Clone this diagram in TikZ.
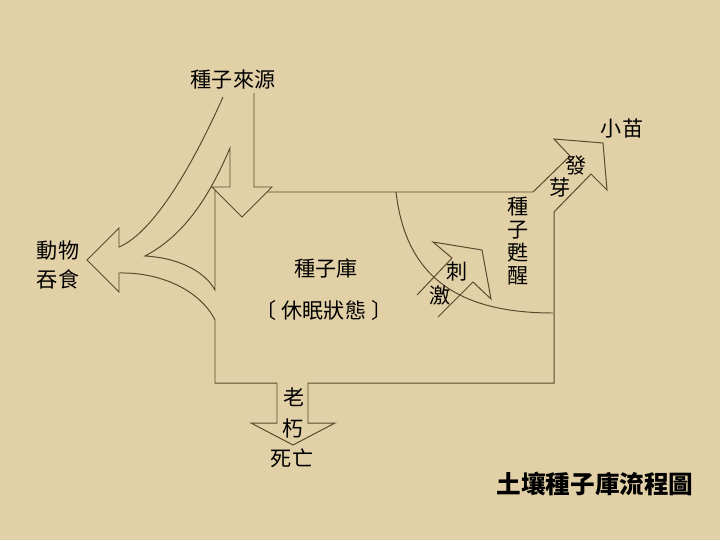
\documentclass[tikz,border=0pt]{standalone}
\usepackage{fontspec}
\usepackage{tikz}
\usepackage{xcolor}
\usetikzlibrary{positioning}
\newfontfamily\cjk{Noto Sans CJK TC}
\definecolor{paper}{RGB}{226,208,166}
\definecolor{lineb}{RGB}{92,72,42}

\begin{document}
\begin{tikzpicture}[x=0.025cm, y=-0.025cm,
    outline/.style={draw=lineb, line width=0.7pt, line join=miter},
    lbl/.style={font=\cjk\fontsize{15}{20}\selectfont, inner sep=0pt, text=black}]
  \fill[paper] (0,0) rectangle (720,540); %page
  % big outline: eaten arrow, box, decay arrow, sprout arrow
  \draw[outline] (223,97) .. controls (195,160) and (155,232) .. (119,247)
    -- (119,228) -- (87,260) -- (119,292) -- (119,273)
    .. controls (160,272) and (200,290) .. (215,320)
    -- (215,383) -- (277,383) -- (277,423) -- (251,423) -- (293,445)
    -- (335,423) -- (308,423) -- (308,383) -- (554,383) -- (554,212)
    -- (591,174) -- (607,190) -- (603,143) -- (554,139) -- (570,156)
    -- (533,192) -- (267,192);
  % seed source arrow and fork
  \draw[outline] (254,93) -- (254,187) -- (272,187) -- (242,217) -- (212,187)
    -- (230,187) -- (230,148) .. controls (210,195) and (185,235) .. (145,256)
    .. controls (180,258) and (205,272) .. (215,290) -- (215,190);
  % stimulus
  \draw[outline] (396,192) .. controls (405,270) and (450,313) .. (553,313);
  \draw[outline] (417,295) -- (452,258) -- (433,242) -- (482,250) -- (491,299)
    -- (473,282) -- (438,317);

  \node[lbl] (source) at (233,79) {種子來源};
  \node[lbl, align=center] (eaten) at (58,265) {動物\\吞食};
  \node[lbl] (bank) at (326,268) {種子庫};
  \node[lbl] (dormant) at (324,310) {〔\hspace{4pt}休眠狀態\hspace{4pt}〕};
  \node[lbl] (stim1) at (457,272) {刺};
  \node[lbl] (stim2) at (440,295) {激};
  \node[lbl, align=center, font=\cjk\fontsize{15}{16.5}\selectfont] (awake) at (518,241) {種\\子\\甦\\醒};
  \node[lbl] (sprout1) at (576,166) {發};
  \node[lbl] (sprout2) at (560,187) {芽};
  \node[lbl] (seedling) at (622,128) {小苗};
  \node[lbl] (decay1) at (294,397) {老};
  \node[lbl] (decay2) at (293,428) {朽};
  \node[lbl] (death) at (292,458) {死亡};
  \node[lbl, font=\cjk\bfseries\fontsize{17.5}{20}\selectfont] (title) at (595,484) {土壤種子庫流程圖};
\end{tikzpicture}
\end{document}
